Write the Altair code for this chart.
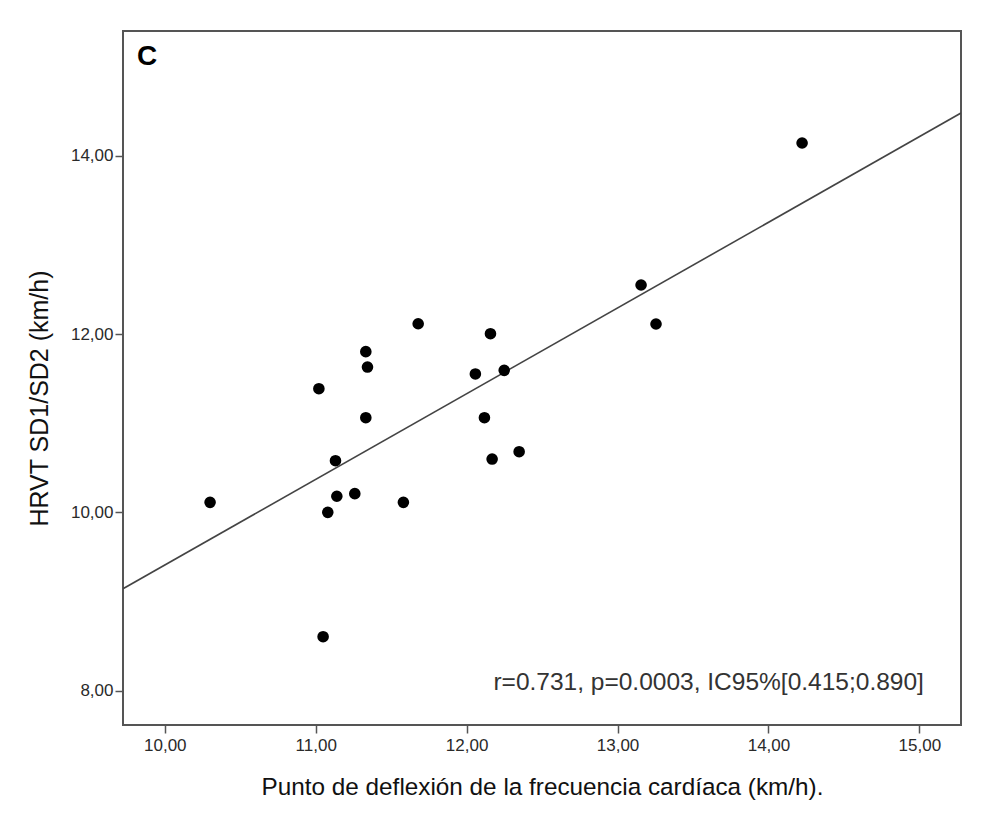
import altair as alt
import pandas as pd

# Punto de deflexión de la frecuencia cardíaca (km/h)
pdfc = [10.300, 11.021, 11.049, 11.080, 11.131, 11.140, 11.259, 11.332, 11.343, 11.332,
        11.581, 11.679, 12.058, 12.118, 12.158, 12.169, 12.249, 12.348, 13.156, 13.255, 14.223]
# HRVT SD1/SD2 (km/h)
hrvt = [10.114, 11.387, 8.608, 10.002, 10.580, 10.182, 10.211, 11.802, 11.630, 11.062,
        10.114, 12.115, 11.552, 11.062, 12.003, 10.599, 11.593, 10.681, 12.549, 12.112, 14.140]

x_ticks = [10, 11, 12, 13, 14, 15]
y_ticks = [8, 10, 12, 14]
x_domain = [9.723, 15.276]
y_domain = [7.619, 15.395]

panel_label = ["C"]
panel_pos = [(9.816, 15.01)]
stats_text = ["r=0.731, p=0.0003, IC95%[0.415;0.890]"]
stats_pos = [(15.03, 8.011)]

df = pd.DataFrame({"x": pdfc, "y": hrvt})
df_c = pd.DataFrame({"x": [p[0] for p in panel_pos], "y": [p[1] for p in panel_pos], "t": panel_label})
df_s = pd.DataFrame({"x": [p[0] for p in stats_pos], "y": [p[1] for p in stats_pos], "t": stats_text})

FONT = "Liberation Sans"
label_expr = "replace(format(datum.value, '.2f'), '.', ',')"

xscale = alt.Scale(domain=x_domain, nice=False, zero=False)
yscale = alt.Scale(domain=y_domain, nice=False, zero=False)

xaxis = alt.Axis(values=x_ticks, labelExpr=label_expr, grid=False, domain=False,
                 tickSize=8, tickColor="#555", tickWidth=1.5, labelFont=FONT, labelFontSize=17,
                 labelColor="#2a2a2a", labelPadding=4,
                 title="Punto de deflexión de la frecuencia cardíaca (km/h).",
                 titleFont=FONT, titleFontSize=24.3, titleFontWeight="normal", titleColor="#111",
                 titlePadding=22)
yaxis = alt.Axis(values=y_ticks, labelExpr=label_expr, grid=False, domain=False,
                 tickSize=8, tickColor="#555", tickWidth=1.5, labelFont=FONT, labelFontSize=17,
                 labelColor="#2a2a2a", labelPadding=2,
                 title="HRVT SD1/SD2 (km/h)", titleFont=FONT, titleFontSize=25,
                 titleFontWeight="normal", titleColor="#111",
                 titleX=-76, titleY=367, titleAngle=270, titleAlign="center",
                 titleBaseline="alphabetic")

base = alt.Chart(df)

points = base.mark_circle(size=135, color="black", opacity=1).encode(
    x=alt.X("x:Q", scale=xscale, axis=xaxis),
    y=alt.Y("y:Q", scale=yscale, axis=yaxis),
)

line = base.transform_regression("x", "y", extent=x_domain).mark_line(
    color="#444", strokeWidth=1.6, clip=True
).encode(
    x=alt.X("x:Q", scale=xscale),
    y=alt.Y("y:Q", scale=yscale),
)

c_label = alt.Chart(df_c).mark_text(
    font=FONT, fontSize=28, fontWeight="bold", align="left", baseline="alphabetic", color="black"
).encode(x=alt.X("x:Q", scale=xscale), y=alt.Y("y:Q", scale=yscale), text="t:N")

stats = alt.Chart(df_s).mark_text(
    font=FONT, fontSize=24.5, align="right", baseline="alphabetic", color="#333"
).encode(x=alt.X("x:Q", scale=xscale), y=alt.Y("y:Q", scale=yscale), text="t:N")

chart = alt.layer(line, points, c_label, stats).properties(
    width=838, height=694,
    autosize=alt.AutoSizeParams(type="none"),
    padding={"left": 115, "top": 23, "right": 28, "bottom": 88},
    background="white",
).configure_view(stroke="#555", strokeWidth=2)

chart.save("out.html", embed_options={"renderer": "svg", "actions": False})
